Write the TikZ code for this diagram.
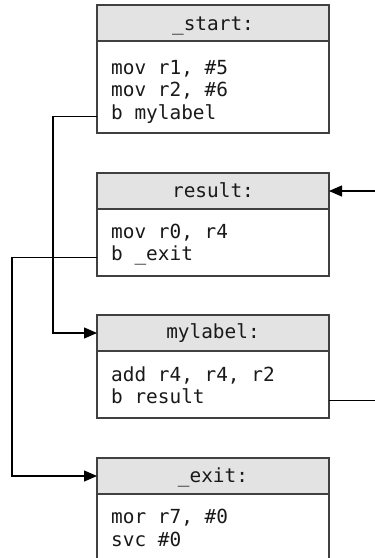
\documentclass[tikz,border=0pt]{standalone}
\usepackage{fontspec}
\setmonofont{DejaVu Sans Mono}
\usetikzlibrary{arrows.meta}
\begin{document}
\begin{tikzpicture}[x=1pt,y=-1pt,
  frame/.style={draw=black!75, line width=1.2pt, inner sep=0pt, outer sep=0pt,
                minimum width=232pt, anchor=north west},
  hdr/.style={frame, fill=black!11, minimum height=36pt},
  bodybox/.style={frame, fill=white},
  code/.style={inner sep=0pt, font=\ttfamily\fontsize{19.4}{22}\selectfont, text=black!90},
  link/.style={draw=black, line width=1.1pt},
  jump/.style={link, -{Triangle[length=13pt,width=11pt]}}]
\useasboundingbox (0,0) rectangle (375,558);

% _start block
\node[hdr] (startH) at (97,5) {};
\node[bodybox, minimum height=92pt] (startB) at (startH.south west) {};
\node[code, anchor=base] at (213,30) {\_start:};
\node[code, anchor=base west] (s1) at (111,74) {mov r1, \#5};
\node[code, anchor=base west] (s2) at (111,96.5) {mov r2, \#6};
\node[code, anchor=base west] (s3) at (111,119) {b mylabel};

% result block
\node[hdr] (resultH) at (97,173) {};
\node[bodybox, minimum height=67pt] (resultB) at (resultH.south west) {};
\node[code, anchor=base] at (213,197) {result:};
\node[code, anchor=base west] (r1) at (111,238) {mov r0, r4};
\node[code, anchor=base west] (r2) at (111,260) {b \_exit};

% mylabel block
\node[hdr] (mylabelH) at (97,315) {};
\node[bodybox, minimum height=67pt] (mylabelB) at (mylabelH.south west) {};
\node[code, anchor=base] at (213,338) {mylabel:};
\node[code, anchor=base west] (m1) at (111,381.5) {add r4, r4, r2};
\node[code, anchor=base west] (m2) at (111,403) {b result};

% _exit block
\node[hdr] (exitH) at (97,458) {};
\node[bodybox, minimum height=120pt] (exitB) at (exitH.south west) {};
\node[code, anchor=base] at (213,482) {\_exit:};
\node[code, anchor=base west] (e1) at (111,523) {mor r7, \#0};
\node[code, anchor=base west] (e2) at (111,546) {svc \#0};

% branches
\coordinate (leftA) at (53,0);
\coordinate (leftB) at (12,0);
\coordinate (rightA) at (380,0);
\draw[jump] (startB.west |- s3.mid) -- (leftA |- s3.mid) -- (leftA |- mylabelH.west) -- (mylabelH.west);
\draw[jump] (resultB.west |- r2.mid) -- (leftB |- r2.mid) -- (leftB |- exitH.west) -- (exitH.west);
\draw[jump] (mylabelB.east |- m2.mid) -- (rightA |- m2.mid) -- (rightA |- resultH.east) -- (resultH.east);
\end{tikzpicture}
\end{document}
